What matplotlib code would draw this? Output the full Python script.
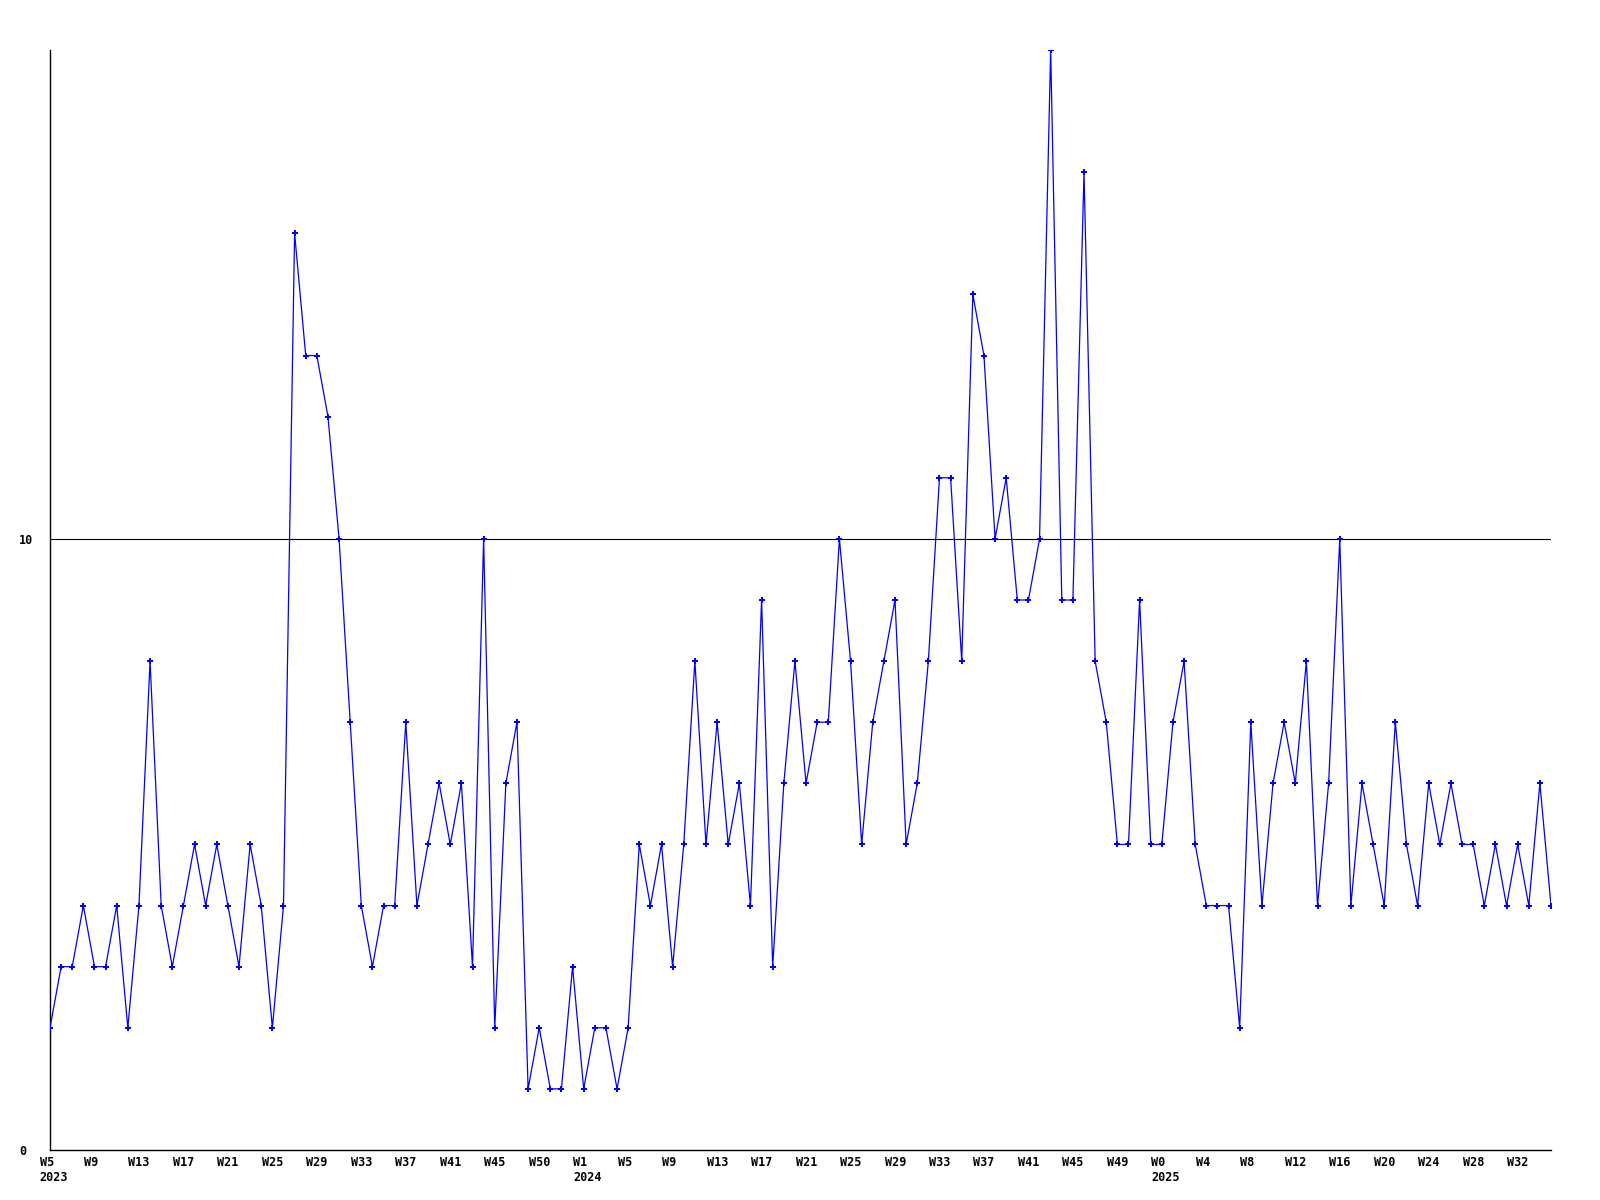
import matplotlib
matplotlib.use("Agg")
import matplotlib.pyplot as plt
import matplotlib.transforms as mtransforms
import numpy as np

# weekly counts, W5 2023 .. W35 2025
counts = [
    2, 3, 3, 4, 3, 3, 4, 2, 4, 8,
    4, 3, 4, 5, 4, 5, 4, 3, 5, 4,
    2, 4, 15, 13, 13, 12, 10, 7, 4, 3,
    4, 4, 7, 4, 5, 6, 5, 6, 3, 10,
    2, 6, 7, 1, 2, 1, 1, 3, 1, 2,
    2, 1, 2, 5, 4, 5, 3, 5, 8, 5,
    7, 5, 6, 4, 9, 3, 6, 8, 6, 7,
    7, 10, 8, 5, 7, 8, 9, 5, 6, 8,
    11, 11, 8, 14, 13, 10, 11, 9, 9, 10,
    18, 9, 9, 16, 8, 7, 5, 5, 9, 5,
    5, 7, 8, 5, 4, 4, 4, 2, 7, 4,
    6, 7, 6, 8, 4, 6, 10, 4, 6, 5,
    4, 7, 5, 4, 6, 5, 6, 5, 5, 4,
    5, 4, 5, 4, 6, 4,
]

week_labels = (
    ["W5", "W9", "W13", "W17", "W21", "W25", "W29", "W33", "W37", "W41", "W45", "W50"]
    + ["W1", "W5", "W9", "W13", "W17", "W21", "W25", "W29", "W33", "W37", "W41", "W45", "W49"]
    + ["W0", "W4", "W8", "W12", "W16", "W20", "W24", "W28", "W32"]
)
year_labels = {0: "2023", 12: "2024", 25: "2025"}
ref_level = 10

FONT = dict(family="DejaVu Sans Mono", weight="bold", size=8.5)

fig = plt.figure(figsize=(16, 12), dpi=100)
ax = fig.add_axes([50 / 1600, 50 / 1200, 1501 / 1600, 1100 / 1200])

x = np.arange(len(counts))
ax.plot(x, counts, color="#0000ff", lw=0.9, marker="P", ms=4, mew=0, zorder=3)
ax.axhline(ref_level, color="black", lw=0.8, zorder=2)

ax.set_xlim(0, len(counts) - 1)
ax.set_ylim(0, 18)

for side in ("top", "right"):
    ax.spines[side].set_visible(False)
for side in ("left", "bottom"):
    ax.spines[side].set_linewidth(1.0)
    ax.spines[side].set_color("black")

ticks = np.arange(len(week_labels)) * 4
labels = [w + ("\n" + year_labels[i] if i in year_labels else "")
          for i, w in enumerate(week_labels)]
ax.set_xticks(ticks)
ax.set_xticklabels(labels, ha="left", linespacing=1.2, **FONT)
ax.tick_params(axis="x", length=0, pad=4.5)
shift = mtransforms.ScaledTranslation(-10.5 / 100, 0, fig.dpi_scale_trans)
for lab in ax.get_xticklabels():
    lab.set_transform(lab.get_transform() + shift)

ax.set_yticks([0, ref_level])
ax.set_yticklabels(["0", "10"], ha="left", **FONT)
ax.tick_params(axis="y", length=0, pad=22.5)

fig.savefig("out.png", dpi=100)
